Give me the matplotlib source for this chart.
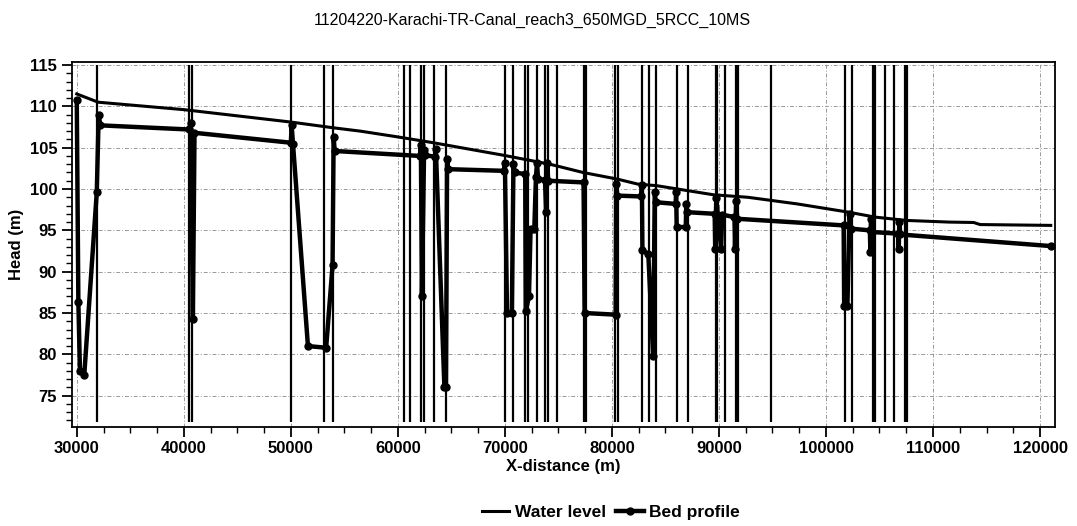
import numpy as np
import matplotlib
matplotlib.use("Agg")
import matplotlib.pyplot as plt
from matplotlib.ticker import MultipleLocator

plt.rcParams['font.family'] = ['Liberation Sans', 'DejaVu Sans']

# water level along the canal
wl_x = [30000, 32000, 40000, 50000, 54000, 56500, 60000, 63300, 69800, 74200,
        77300, 80500, 82400, 84200, 89500, 92700, 97300, 102100, 104600, 107500,
        111500, 113800, 114400, 121000]
wl_y = [111.5, 110.5, 109.6, 108.1, 107.4, 107.0, 106.3, 105.6, 104.1, 103.0,
        102.0, 101.2, 100.6, 100.4, 99.3, 99.0, 98.2, 97.2, 96.6, 96.2,
        96.0, 95.95, 95.7, 95.6]

# bed profile (with the structure dips)
bed_x = [30000, 30150, 30300, 30700, 31870, 32050, 32200,
         40500, 40650, 40850, 41000,
         50000, 50080, 50200, 51600, 53300, 53900, 54000, 54100,
         62050, 62150, 62250, 62450, 62550,
         63450, 63550, 64350, 64500, 64600, 64700,
         69900, 70000, 70200, 70650, 70800, 70900,
         71900, 71950, 72250, 72400, 72750, 72900, 73000, 73100,
         73750, 73850, 73950, 74050,
         77350, 77450, 80350, 80400, 80500,
         82750, 82800, 82850, 83400, 83850, 84000, 84100,
         85950, 86000, 86050, 86900, 86950, 87000,
         89600, 89650, 89750, 90200, 90300,
         91450, 91500, 91600, 91700,
         101650, 101700, 102000, 102200, 102350,
         104100, 104150, 104200, 104300,
         106750, 106800, 106850, 106950,
         121000]
bed_y = [110.8, 86.3, 78.0, 77.5, 99.6, 109.0, 107.7,
         107.2, 108.0, 84.3, 106.8,
         105.6, 107.7, 105.5, 81.0, 80.8, 90.8, 106.3, 104.6,
         104.0, 105.3, 87.0, 104.7, 104.1,
         103.9, 104.8, 76.0, 76.0, 103.6, 102.4,
         102.2, 103.2, 85.0, 85.0, 103.0, 102.0,
         101.8, 85.2, 87.0, 95.2, 95.2, 101.4, 103.2, 101.2,
         101.1, 97.2, 103.2, 101.0,
         100.8, 85.0, 84.8, 100.6, 99.2,
         99.1, 100.5, 92.6, 92.1, 79.8, 99.6, 98.4,
         98.2, 99.6, 95.4, 95.4, 98.2, 97.2,
         97.0, 92.8, 98.9, 92.8, 96.9,
         96.6, 92.8, 98.6, 96.4,
         95.6, 85.8, 85.8, 97.0, 95.2,
         95.0, 92.4, 96.4, 94.8,
         94.6, 92.8, 96.0, 94.5,
         93.1]

# structure locations (vertical lines)
struct_x = [31900, 40500, 40800, 50000, 53100, 53900, 60600, 61100, 62200, 62450,
            63400, 64500, 70000, 70800, 71900, 72200, 73000, 73750, 74000, 74850,
            77350, 77600, 80300, 80550, 82800, 83450, 84100, 86050, 87100,
            89700, 89850, 90600, 91600, 91750, 94850, 101800, 102450,
            104400, 104550, 105550, 106350, 107400, 107550]

fig = plt.figure(figsize=(10.77, 5.26), dpi=100)
ax = fig.add_axes([0.0666, 0.1888, 0.913, 0.6939])

ax.grid(True, which='major', color='0.6', linestyle=(0, (4, 2, 1, 2)), linewidth=0.7)
ax.set_axisbelow(True)

ax.vlines(struct_x, 71.8, 115.0, colors='black', linewidth=1.6)
ax.plot(wl_x, wl_y, color='black', linewidth=2.2, label='Water level')
ax.plot(bed_x, bed_y, color='black', linewidth=3.2, marker='o', markersize=5,
        label='Bed profile')

ax.set_xlim(29530, 121400)
ax.set_ylim(71.25, 115.4)
ax.xaxis.set_major_locator(MultipleLocator(10000))
ax.xaxis.set_minor_locator(MultipleLocator(2500))
ax.yaxis.set_major_locator(MultipleLocator(5))
ax.yaxis.set_minor_locator(MultipleLocator(1))
ax.tick_params(which='major', length=7, width=1.3, labelsize=12, direction='out')
ax.tick_params(which='minor', length=4, width=1.0, direction='out')
for lab in ax.get_xticklabels() + ax.get_yticklabels():
    lab.set_fontweight('bold')
for s in ax.spines.values():
    s.set_linewidth(1.3)

ax.set_xlabel('X-distance (m)', fontsize=12, fontweight='bold', labelpad=2)
ax.set_ylabel('Head (m)', fontsize=12, fontweight='bold', labelpad=4)
fig.suptitle('11204220-Karachi-TR-Canal_reach3_650MGD_5RCC_10MS', x=0.494, y=0.975, fontsize=11.5)

fig.legend(loc='center', bbox_to_anchor=(0.567, 0.025), ncol=2, frameon=False,
           handlelength=1.6, handletextpad=0.3, columnspacing=0.6,
           prop={'weight': 'bold', 'size': 12.5})

fig.savefig('out.png', dpi=100)
